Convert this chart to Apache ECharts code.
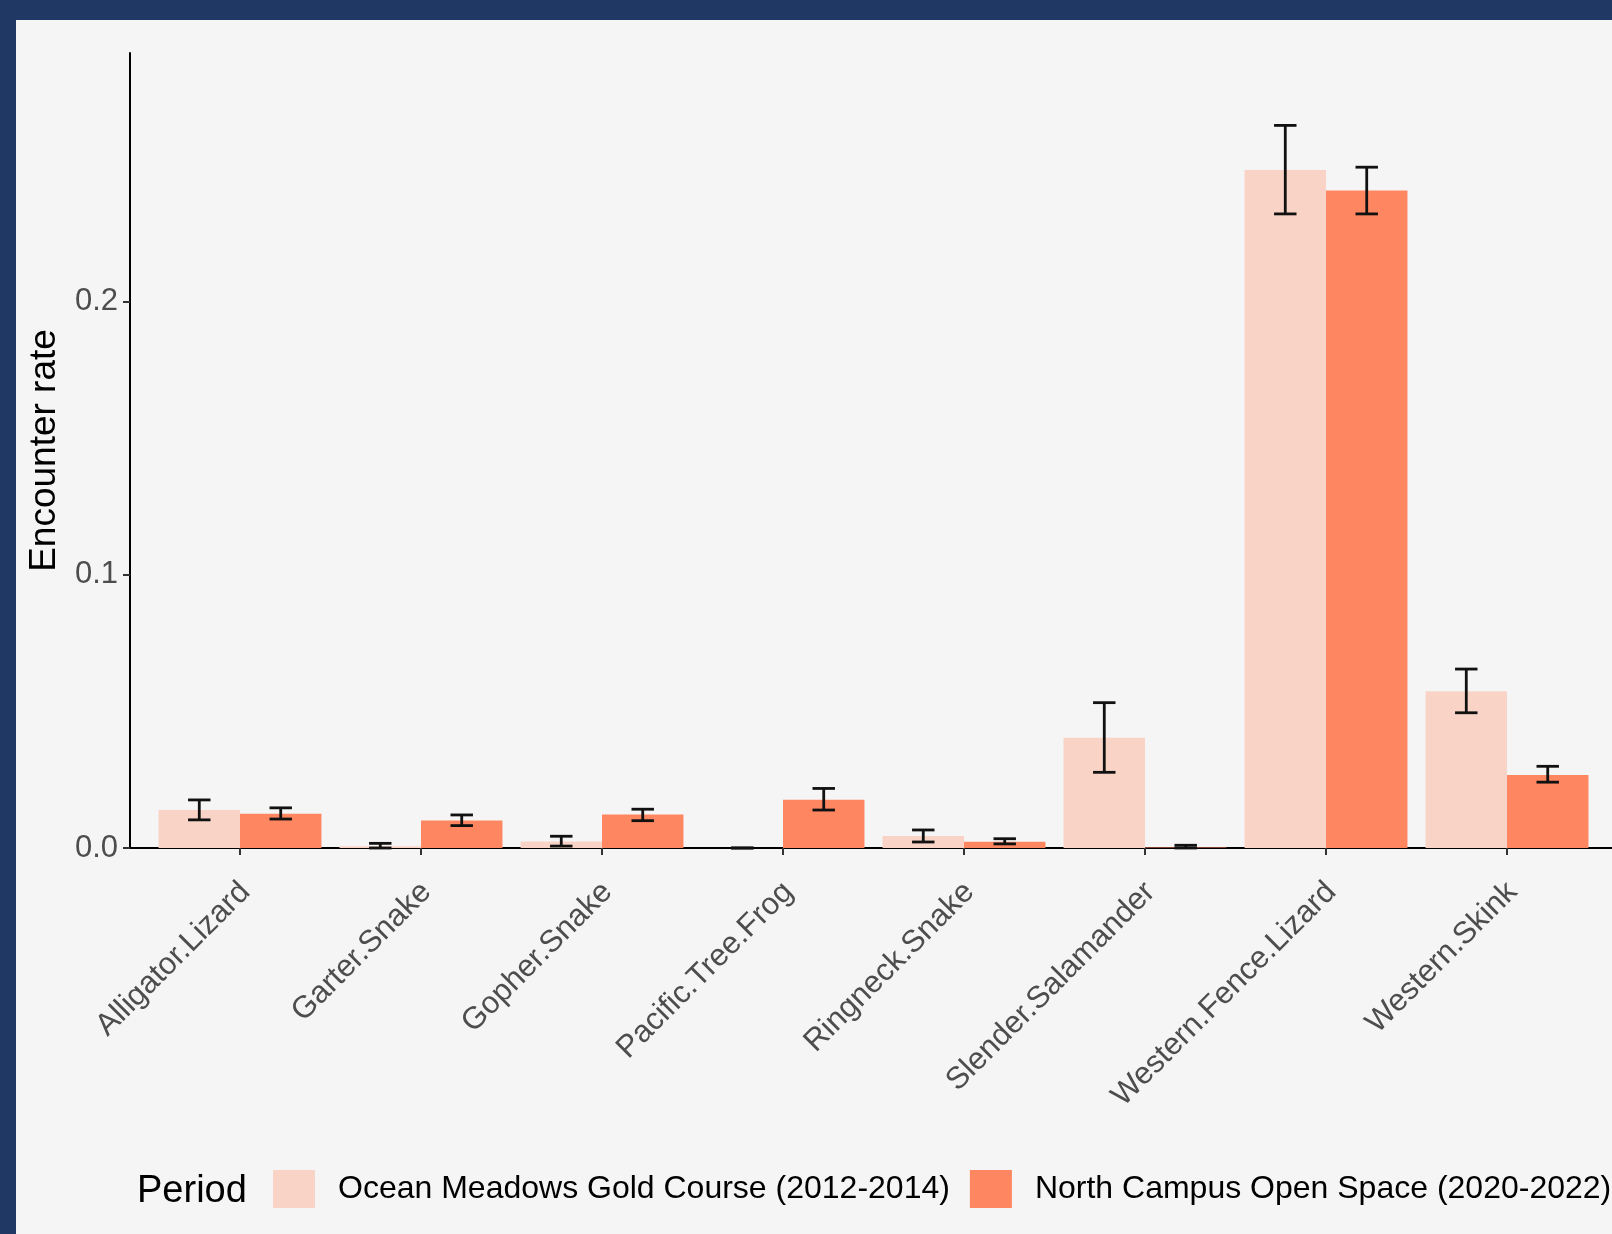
<!DOCTYPE html>
<html>
<head>
<meta charset="utf-8">
<script src="https://cdn.jsdelivr.net/npm/echarts@6/dist/echarts.min.js"></script>
<style>
html,body{margin:0;padding:0;background:#203864;}
#chart{position:absolute;left:0;top:0;width:1612px;height:1234px;box-sizing:border-box;border-top:20px solid #203864;border-left:16px solid #203864;background:#f5f5f5;}
</style>
</head>
<body>
<div id="chart"></div>
<script>
const categories = ['Alligator.Lizard','Garter.Snake','Gopher.Snake','Pacific.Tree.Frog','Ringneck.Snake','Slender.Salamander','Western.Fence.Lizard','Western.Skink'];
const seriesNames = ['Ocean Meadows Gold Course (2012-2014)','North Campus Open Space (2020-2022)'];
const ocean     = [0.0139, 0.0006, 0.0024, 0.0000, 0.0044, 0.0404, 0.2482, 0.0574];
const oceanLow  = [0.0103, 0.0000, 0.0007, 0.0000, 0.0022, 0.0277, 0.2321, 0.0495];
const oceanHigh = [0.0176, 0.0017, 0.0043, 0.0000, 0.0066, 0.0532, 0.2645, 0.0655];
const north     = [0.0125, 0.0101, 0.0123, 0.0177, 0.0023, 0.0002, 0.2407, 0.0267];
const northLow  = [0.0106, 0.0082, 0.0100, 0.0139, 0.0015, 0.0000, 0.2321, 0.0241];
const northHigh = [0.0147, 0.0121, 0.0142, 0.0218, 0.0034, 0.0010, 0.2492, 0.0299];
const yTicks = [0, 0.1, 0.2];
const yMax = 0.291;

const FONT = 'Liberation Sans, Arial, Helvetica, sans-serif';
const C_LIGHT = '#f9d4c6';
const C_DARK = '#fe8661';

function errData(low, high){
  return categories.map((c,i)=>[i, low[i], high[i]]);
}
function errRender(side){
  return function(params, api){
    const idx = api.value(0);
    const lo = api.coord([idx, api.value(1)]);
    const hi = api.coord([idx, api.value(2)]);
    const band = api.size([1,0])[0];
    const x = lo[0] + side*band*0.225;
    const cap = band*0.062;
    const st = {stroke:'#111', lineWidth:2.8};
    return {type:'group', children:[
      {type:'line', shape:{x1:x, y1:lo[1], x2:x, y2:hi[1]}, style:st},
      {type:'line', shape:{x1:x-cap, y1:lo[1], x2:x+cap, y2:lo[1]}, style:st},
      {type:'line', shape:{x1:x-cap, y1:hi[1], x2:x+cap, y2:hi[1]}, style:st}
    ]};
  };
}

const chart = echarts.init(document.getElementById('chart'));
chart.setOption({
  animation:false,
  backgroundColor:'#f5f5f5',
  textStyle:{fontFamily:FONT},
  title:{text:'Period', left:121, top:1153, padding:0,
    textStyle:{fontSize:38, fontWeight:'normal', color:'#000', fontFamily:FONT, lineHeight:38}},
  legend:{left:257, top:1150, itemWidth:42, itemHeight:38, itemGap:20, padding:0,
    icon:'rect', data:seriesNames,
    textStyle:{fontSize:32, color:'#000', fontFamily:FONT, padding:[5,0,0,18]}},
  grid:[
    {left:133.5, right:14.5, top:33, bottom:386, outerBoundsMode:'none'},
    {left:114, right:-4, top:33, bottom:386, outerBoundsMode:'none'}
  ],
  xAxis:[
    {type:'category', gridIndex:0, data:categories,
      axisLine:{show:false},
      axisTick:{show:true, alignWithLabel:true, length:7, lineStyle:{color:'#333', width:2}},
      axisLabel:{interval:0, rotate:45, margin:34, fontSize:31, color:'#4d4d4d', fontFamily:FONT,
        verticalAlign:'top', lineHeight:15},
      splitLine:{show:false}},
    {type:'value', gridIndex:1, min:-0.6, max:7.6,
      axisLine:{show:true, onZero:false, lineStyle:{color:'#000', width:2}},
      axisTick:{show:false}, axisLabel:{show:false}, splitLine:{show:false}}
  ],
  yAxis:[
    {type:'value', gridIndex:0, min:0, max:yMax, show:false, splitLine:{show:false}},
    {type:'value', gridIndex:1, min:0, max:yMax,
      name:'Encounter rate', nameLocation:'middle', nameGap:67, nameRotate:90,
      nameTextStyle:{fontSize:37, color:'#000', fontFamily:FONT},
      axisLine:{show:true, onZero:false, lineStyle:{color:'#000', width:2}},
      axisTick:{show:true, length:7, customValues:yTicks, lineStyle:{color:'#333', width:2}},
      axisLabel:{margin:12, fontSize:31, color:'#4d4d4d', fontFamily:FONT, customValues:yTicks,
        formatter:v=>v.toFixed(1)},
      splitLine:{show:false}}
  ],
  series:[
    {name:seriesNames[0], type:'bar', xAxisIndex:0, yAxisIndex:0, data:ocean,
      itemStyle:{color:C_LIGHT}, barGap:'0%', barCategoryGap:'10%'},
    {name:seriesNames[1], type:'bar', xAxisIndex:0, yAxisIndex:0, data:north,
      itemStyle:{color:C_DARK}, barGap:'0%', barCategoryGap:'10%'},
    {type:'custom', xAxisIndex:0, yAxisIndex:0, z:10, renderItem:errRender(-1), data:errData(oceanLow, oceanHigh), clip:false},
    {type:'custom', xAxisIndex:0, yAxisIndex:0, z:10, renderItem:errRender(1), data:errData(northLow, northHigh), clip:false}
  ]
});
</script>
</body>
</html>
